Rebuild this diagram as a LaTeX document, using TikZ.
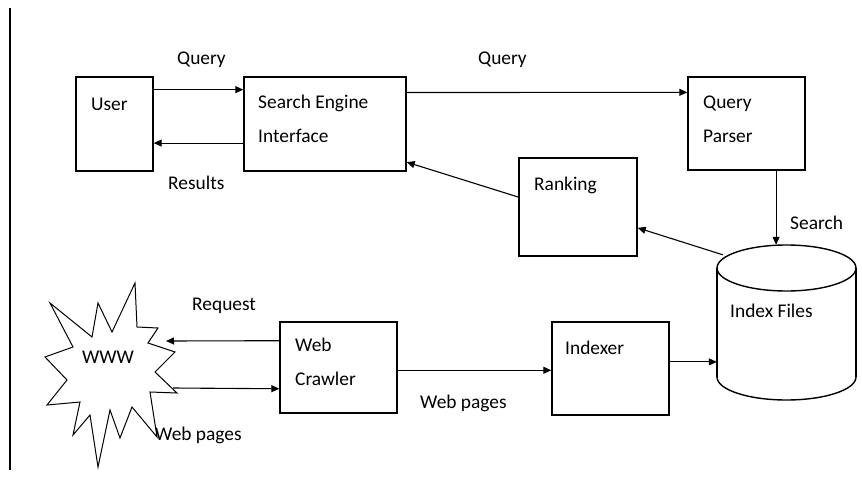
\documentclass[tikz,border=0pt]{standalone}
\usepackage{fontspec}
\setmainfont{Carlito}
\usetikzlibrary{arrows.meta,calc}
\begin{document}
\begin{tikzpicture}[x=1pt,y=-1pt,
  box/.style={draw, line width=1.4pt, inner sep=0pt},
  txt/.style={inner sep=0pt, anchor=base west, font=\fontsize{19.4}{23}\selectfont},
  arr/.style={line width=1.1pt, -{Triangle[length=8pt,width=7pt]}}]
\useasboundingbox (0,0) rectangle (862,479);
\fill[white] (0,0) rectangle (862,479);

% margin rule
\draw[line width=1.2pt] (10,8) -- (10,470);

% boxes
\node[box, minimum width=77pt,  minimum height=94pt] (user) at (114.5,124) {};
\node[box, minimum width=162pt, minimum height=94pt] (sei)  at (325,124) {};
\node[box, minimum width=117pt, minimum height=93pt] (qp)   at (746.5,123.5) {};
\node[box, minimum width=118pt, minimum height=98pt] (rank) at (578,207) {};
\node[box, minimum width=117pt, minimum height=93pt] (ix)   at (610.5,368.5) {};
\node[box, minimum width=117pt, minimum height=91pt] (wc)   at (338.5,367.5) {};
\node[inner sep=0pt, minimum width=139pt, minimum height=155pt] (idx) at (786.5,322.5) {};

% index files cylinder
\draw[line width=1.4pt] (786.5,268) ellipse [x radius=69.5, y radius=23];
\draw[line width=1.4pt] (717,268) -- (717,377);
\draw[line width=1.4pt] (856,268) -- (856,377);
\begin{scope}
  \clip (700,377) rectangle (870,410);
  \draw[line width=1.4pt] (786.5,377) ellipse [x radius=69.5, y radius=23];
\end{scope}

% WWW starburst
\draw[line width=1pt, line join=miter]
  (50,303) -- (92,337) -- (98,303) -- (112,332) -- (135,283) -- (137,327)
  -- (158,328) -- (148,343) -- (175,352) -- (155,372) -- (177,393) -- (150,392)
  -- (157,437) -- (132,407) -- (120,438) -- (110,410) -- (98,467) -- (90,415)
  -- (73,435) -- (80,402) -- (47,405) -- (67,380) -- (45,357) -- (73,347) -- cycle;
\node[inner sep=0pt, font=\fontsize{19.4}{23}\selectfont] (www) at (108,357) {WWW};
\coordinate (wwwin)  at (166,341);
\coordinate (wwwout) at (173,388);

% box texts
\node[txt] (tuser) at (91,110) {User};
\node[txt] (tsei1) at (258,108) {Search Engine};
\node[txt] (tsei2) at (258,142) {Interface};
\node[txt] (tqp1)  at (703,108) {Query};
\node[txt] (tqp2)  at (703,142) {Parser};
\node[txt] (trank) at (534,190) {Ranking};
\node[txt] (tidx)  at (730,317) {Index Files};
\node[txt] (tix)   at (565,354) {Indexer};
\node[txt] (twc1)  at (295,351) {Web};
\node[txt] (twc2)  at (295,385) {Crawler};

% connector labels
\node[txt] (lq1)  at (177,64)  {Query};
\node[txt] (lres) at (168,189) {Results};
\node[txt] (lq2)  at (478,64)  {Query};
\node[txt] (lsr)  at (790,229) {Search};
\node[txt] (lreq) at (192,310) {Request};
\node[txt] (lwp1) at (155,440) {Web pages};
\node[txt] (lwp2) at (420,408) {Web pages};

% connectors
\draw[arr] ($(user.north east)!0.14!(user.south east)$) -- ($(sei.north west)!0.14!(sei.south west)$);
\draw[arr] ($(sei.north west)!0.70!(sei.south west)$) -- ($(user.north east)!0.70!(user.south east)$);
\draw[arr] ($(sei.north east)!0.17!(sei.south east)$) -- ($(qp.north west)!0.17!(qp.south west)$);
\draw[arr] ($(rank.north west)!0.40!(rank.south west)$) -- ($(sei.north east)!0.90!(sei.south east)$);
\coordinate (qpout) at ($(qp.south west)!0.75!(qp.south east)$);
\draw[arr] (qpout) -- (qpout |- idx.north);
\coordinate (idxout) at ($(idx.north west)+(6,10)$);
\draw[arr] (idxout) -- ($(rank.north east)!0.71!(rank.south east)$);
\coordinate (ixout) at ($(ix.north east)!0.43!(ix.south east)$);
\draw[arr] (ixout) -- (ixout -| idx.west);
\coordinate (wcout) at ($(wc.north east)!0.53!(wc.south east)$);
\draw[arr] (wcout) -- (wcout -| ix.west);
\draw[arr] ($(wc.north west)!0.21!(wc.south west)$) -- (wwwin);
\draw[arr] (wwwout) -- ($(wc.north west)!0.73!(wc.south west)$);
\end{tikzpicture}
\end{document}
